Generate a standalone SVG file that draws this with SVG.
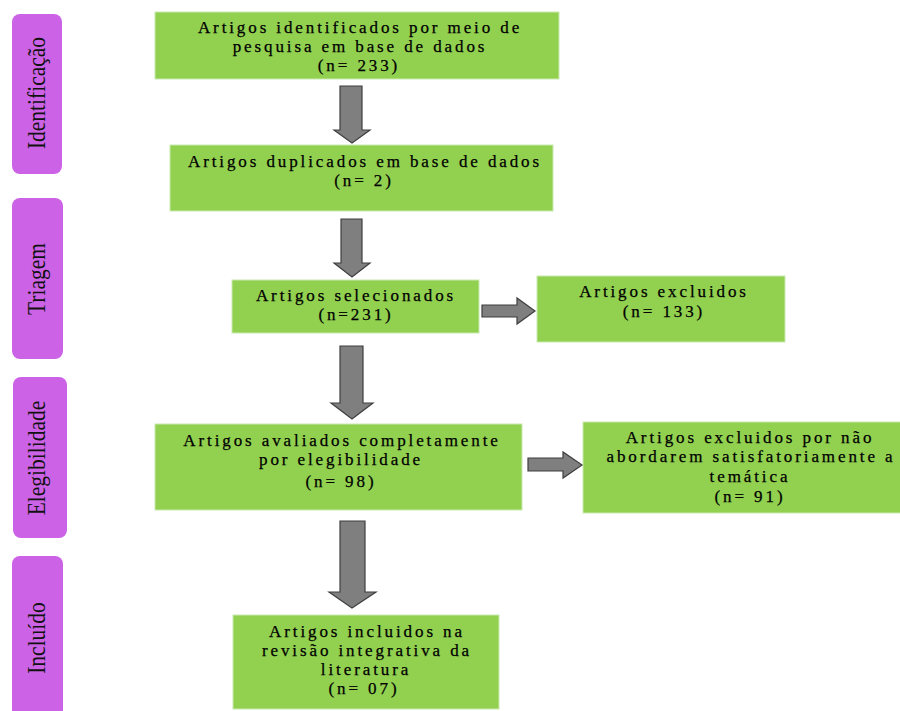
<svg xmlns="http://www.w3.org/2000/svg" width="900" height="711" viewBox="0 0 900 711">
<style>
.bar{fill:#cc63e6;}
.box{fill:#92d050;stroke:#c8eab0;stroke-width:1;}
.t{font-family:"Liberation Serif","Times New Roman",serif;font-size:17px;letter-spacing:2.9px;fill:#000000;stroke:#000000;stroke-width:0.25;text-anchor:middle;}
.lab{font-family:"Liberation Serif","Times New Roman",serif;font-size:21.5px;fill:#111111;text-anchor:middle;}
.arr{fill:#7f7f7f;stroke:#3f3f3f;stroke-width:1.2;stroke-linejoin:miter;}
</style>
<rect width="900" height="711" fill="#ffffff"/>
<g id="stage-identificacao">
<rect class="bar" x="12" y="14" width="50" height="160" rx="8"/>
<text class="lab" transform="translate(45,93) rotate(-90) scale(1,1.2)">Identificação</text>
</g>
<g id="stage-triagem">
<rect class="bar" x="12" y="198" width="51" height="161" rx="8"/>
<text class="lab" transform="translate(45,279) rotate(-90) scale(1,1.2)">Triagem</text>
</g>
<g id="stage-elegibilidade">
<rect class="bar" x="13" y="377" width="54" height="161" rx="8"/>
<text class="lab" transform="translate(45,458) rotate(-90) scale(1,1.2)">Elegibilidade</text>
</g>
<g id="stage-incluido">
<rect class="bar" x="12" y="556" width="51" height="170" rx="8"/>
<text class="lab" transform="translate(45,638) rotate(-90) scale(1,1.2)">Incluído</text>
</g>
<g id="n1">
<rect class="box" x="155" y="12" width="404" height="67"/>
<text class="t" x="360" y="33">Artigos identificados por meio de</text>
<text class="t" x="360" y="52">pesquisa em base de dados</text>
<text class="t" x="359" y="71">(n= 233)</text>
</g>
<g id="n2">
<rect class="box" x="170" y="145" width="383" height="66"/>
<text class="t" x="365" y="167">Artigos duplicados em base de dados</text>
<text class="t" x="364" y="186">(n= 2)</text>
</g>
<g id="n3">
<rect class="box" x="232" y="280" width="247" height="53"/>
<text class="t" x="356" y="301">Artigos selecionados</text>
<text class="t" x="356" y="320">(n=231)</text>
</g>
<g id="n4">
<rect class="box" x="537" y="276" width="248" height="66"/>
<text class="t" x="664" y="297">Artigos excluidos</text>
<text class="t" x="664" y="317">(n= 133)</text>
</g>
<g id="n5">
<rect class="box" x="155" y="424" width="367" height="86"/>
<text class="t" x="342" y="446">Artigos avaliados completamente</text>
<text class="t" x="341" y="465">por elegibilidade</text>
<text class="t" x="341" y="487">(n= 98)</text>
</g>
<g id="n6">
<rect class="box" x="583" y="422" width="330" height="91"/>
<text class="t" x="750" y="443">Artigos excluidos por não</text>
<text class="t" x="751" y="462">abordarem satisfatoriamente a</text>
<text class="t" x="750" y="482">temática</text>
<text class="t" x="750" y="502">(n= 91)</text>
</g>
<g id="n7">
<rect class="box" x="233" y="615" width="266" height="94"/>
<text class="t" x="367" y="637">Artigos incluidos na</text>
<text class="t" x="367" y="656">revisão integrativa da</text>
<text class="t" x="366" y="675">literatura</text>
<text class="t" x="364" y="694">(n= 07)</text>
</g>
<g id="connectors">
<polygon class="arr" points="340,86 362,86 362,130 370,130 352,143 334,130 340,130"/>
<polygon class="arr" points="341,219 362,219 362,263 370,263 352,277 334,263 341,263"/>
<polygon class="arr" points="340,346 363,346 363,403 373,403 352,419 331,403 340,403"/>
<polygon class="arr" points="340,521 365,521 365,592 376,592 352,608 329,592 340,592"/>
<polygon class="arr" points="482,305 517,305 517,298 535,311 517,324 517,317 482,317"/>
<polygon class="arr" points="528,458 563,458 563,452 582,465 563,478 563,471 528,471"/>
</g>
</svg>
